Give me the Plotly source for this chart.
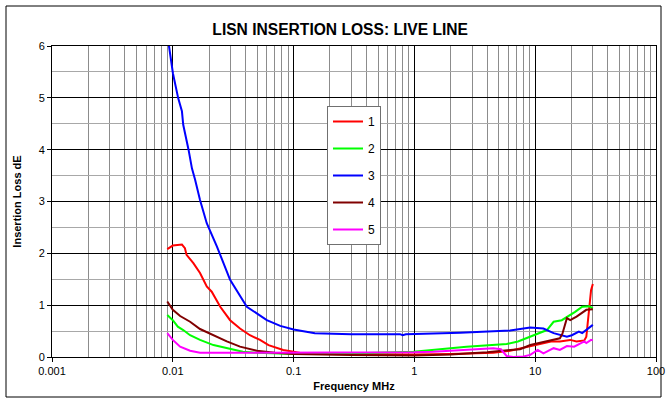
import plotly.graph_objects as go

# ---- data (frequency MHz, insertion loss dB) ----
f1 = [0.009, 0.01, 0.0119, 0.0126, 0.013, 0.0148, 0.0168, 0.0191, 0.021, 0.0247, 0.0298, 0.036, 0.0435,
      0.0527, 0.062, 0.082, 0.1, 0.12, 0.2, 0.5, 1, 2, 3, 4.5, 6.2, 9.1, 13.5, 16, 19.5, 22, 25.5, 26.5,
      27.8, 29, 30]
v1 = [2.08, 2.15, 2.17, 2.10, 1.97, 1.81, 1.62, 1.36, 1.26, 0.97, 0.71, 0.55, 0.42,
      0.33, 0.23, 0.135, 0.10, 0.07, 0.06, 0.05, 0.05, 0.06, 0.07, 0.08, 0.12, 0.21, 0.30, 0.30, 0.33, 0.30, 0.32, 0.39,
      0.91, 1.29, 1.41]

f2 = [0.009, 0.01, 0.011, 0.0122, 0.0139, 0.0168, 0.0217, 0.028, 0.038, 0.05, 0.07, 0.1, 0.2, 0.5, 0.98,
      2.7, 5.8, 7.2, 9.1, 12.5, 14.2, 16.6, 21.4, 24.5, 28, 30]
v2 = [0.81, 0.71, 0.585, 0.52, 0.42, 0.33, 0.23, 0.17, 0.10, 0.08, 0.07, 0.06, 0.06, 0.08, 0.10,
      0.20, 0.25, 0.30, 0.39, 0.52, 0.68, 0.71, 0.87, 0.97, 0.98, 0.94]

f3 = [0.009, 0.0093, 0.01003, 0.01109, 0.0119, 0.0122, 0.0135, 0.0144, 0.0153, 0.0168, 0.0191, 0.0232,
      0.0298, 0.041, 0.060, 0.0775, 0.1, 0.15, 0.3, 0.76, 0.8, 0.85, 2.4, 6.2, 9.1, 11.7, 14.2, 18.3, 20.1,
      23, 24.5, 30]
v3 = [6.3, 6.0, 5.47, 4.99, 4.74, 4.48, 4.0, 3.64, 3.42, 3.03, 2.58, 2.13,
      1.49, 0.97, 0.71, 0.60, 0.53, 0.46, 0.44, 0.44, 0.42, 0.44, 0.47, 0.51, 0.57, 0.55, 0.46, 0.39, 0.42,
      0.49, 0.46, 0.62]

f4 = [0.009, 0.01, 0.0115, 0.0139, 0.0168, 0.0217, 0.028, 0.036, 0.0496, 0.07, 0.1, 0.3, 1, 2, 4, 6.2,
      7.5, 9.1, 12.5, 16, 16.8, 17.5, 18.3, 19.5, 22, 26.5, 30]
v4 = [1.07, 0.91, 0.79, 0.68, 0.54, 0.42, 0.30, 0.20, 0.12, 0.08, 0.06, 0.04, 0.03, 0.05, 0.09, 0.135,
      0.15, 0.23, 0.30, 0.36, 0.45, 0.62, 0.75, 0.71, 0.78, 0.91, 0.92]

f5 = [0.009, 0.01, 0.0115, 0.0139, 0.0168, 0.03, 0.1, 0.5, 1, 1.43, 3, 4.5, 5.2, 5.8, 6.6, 8, 9.1, 10.5,
      11.7, 14.2, 16, 18.3, 21, 23, 25.5, 26.5, 29, 30]
v5 = [0.46, 0.33, 0.20, 0.12, 0.08, 0.08, 0.08, 0.09, 0.09, 0.10, 0.14, 0.17, 0.15, 0.02, 0.0, 0.01, 0.04, 0.135,
      0.07, 0.17, 0.135, 0.21, 0.20, 0.24, 0.30, 0.27, 0.33, 0.32]

series_names = ["1", "2", "3", "4", "5"]
series_colors = ["#ff0000", "#00ff00", "#0000ff", "#800000", "#ff00ff"]

x_tickvals = [0.001, 0.01, 0.1, 1, 10, 100]
x_ticktext = ["0.001", "0.01", "0.1", "1", "10", "100"]

FONT = "Liberation Sans, Arial, sans-serif"

fig = go.Figure()
for name, color, fx, vy in zip(series_names, series_colors, [f1, f2, f3, f4, f5], [v1, v2, v3, v4, v5]):
    fig.add_trace(go.Scatter(x=fx, y=vy, mode="lines", name=name, legendgroup=name,
                             line=dict(color=color, width=2)))

fig.update_layout(
    width=667, height=403,
    margin=dict(l=52, r=11, t=46, b=46, autoexpand=False),
    paper_bgcolor="white", plot_bgcolor="white",
    font=dict(family=FONT, size=11, color="black"),
    title=dict(text="<b>LISN INSERTION LOSS: LIVE LINE</b>", xref="container", x=0.51, xanchor="center",
               yref="container", y=1 - 30 / 403, yanchor="middle", font=dict(size=15.6, family=FONT)),
    showlegend=True,
    legend=dict(x=(327 - 52) / 604, y=(357 - 106) / 311, xanchor="left", yanchor="top",
                bgcolor="white", bordercolor="#707070", borderwidth=1,
                font=dict(size=12, family=FONT), tracegroupgap=8, itemwidth=30),
    xaxis=dict(type="log", range=[-3, 2], tickvals=x_tickvals, ticktext=x_ticktext, automargin=False,
               showline=True, linecolor="black", linewidth=1, mirror=True,
               ticks="outside", ticklen=4, tickcolor="black",
               showgrid=True, gridcolor="#000000", gridwidth=1,
               minor=dict(dtick="D1", showgrid=True, gridcolor="#8c8c8c", gridwidth=1, ticks=""),
               title=dict(text="<b>Frequency MHz</b>", font=dict(size=11), standoff=6),
               zeroline=False),
    yaxis=dict(range=[0, 6], dtick=1, tick0=0, automargin=False,
               showline=True, linecolor="black", linewidth=1, mirror=True,
               ticks="outside", ticklen=4, tickcolor="black",
               showgrid=True, gridcolor="#000000", gridwidth=1,
               minor=dict(dtick=0.5, showgrid=True, gridcolor="#a8a8a8", gridwidth=1, ticks=""),
               title=dict(text="<b>Insertion Loss dE</b>", font=dict(size=11), standoff=14),
               zeroline=False),
)

# outer chart frame
fig.add_shape(type="rect", xref="paper", yref="paper",
              x0=(6 - 52) / 604, x1=(661 - 52) / 604, y0=(357 - 397) / 311, y1=(357 - 6) / 311,
              line=dict(color="black", width=1), fillcolor="rgba(0,0,0,0)", layer="below")

fig.write_html("out.html")
